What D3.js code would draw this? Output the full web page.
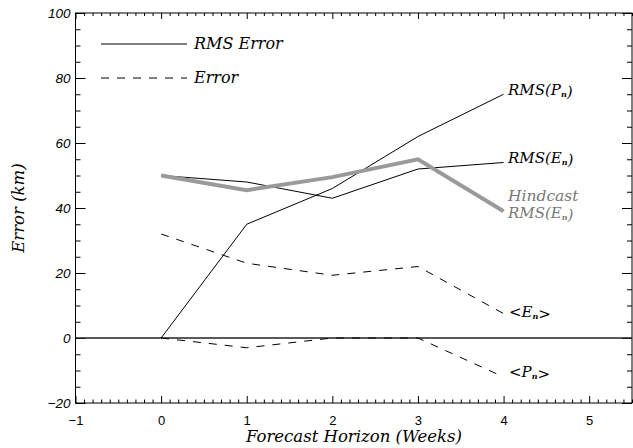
<!DOCTYPE html>
<html><head><meta charset="utf-8">
<script src="https://cdn.jsdelivr.net/npm/d3@7"></script>
<style>body{margin:0;background:#fff}svg{display:block}</style>
</head><body>
<script>
const weeks = [0, 1, 2, 3, 4];
const rmsP = [0, 35, 46, 62, 75];
const rmsE = [50, 48, 43, 52, 54];
const hindcastRmsE = [50, 45.5, 49.5, 55, 39];
const meanE = [32, 23, 19.3, 22, 7.5];
const meanP = [0, -3, 0, 0, -12];
const xTicks = [-1, 0, 1, 2, 3, 4, 5];
const yTicks = [-20, 0, 20, 40, 60, 80, 100];

const W = 633, H = 448;
const L = 75.5, R = 632, T = 13, B = 403;
const svg = d3.select("body").append("svg").attr("width", W).attr("height", H);
const x = d3.scaleLinear().domain([-1, 5.5]).range([L, R]);
const y = d3.scaleLinear().domain([-20, 100]).range([B, T]);

const serif = "'DejaVu Serif', 'Liberation Serif', serif";
const sans = "'Liberation Sans', 'DejaVu Sans', sans-serif";
const fmt = d => d < 0 ? "\u2212" + Math.abs(d) : String(d);

const xMinor = d3.range(-10, 56).map(d => d / 10).filter(v => Math.abs(v - Math.round(v)) > 1e-6);
const yMinor = d3.range(-20, 101, 5).filter(v => v % 20 !== 0);

function axis(gen, transform, values, size, labels) {
  const g = svg.append("g").attr("transform", transform)
    .call(gen.tickValues(values).tickSize(size));
  if (!labels) g.selectAll("text").remove();
  else g.selectAll("text").text(fmt);
  g.select(".domain").remove();
  g.selectAll("line").attr("stroke", "#000").attr("stroke-width", 1);
  return g;
}
// bottom
const xb = axis(d3.axisBottom(x).tickPadding(13), `translate(0,${B})`, xTicks, -7, true);
xb.selectAll("text").attr("font-family", sans).attr("font-size", 13).attr("fill", "#000");
axis(d3.axisBottom(x), `translate(0,${B})`, xMinor, -3.5, false);
// top
axis(d3.axisTop(x), `translate(0,${T})`, xTicks, -6, false);
axis(d3.axisTop(x), `translate(0,${T})`, xMinor, -3, false);
// left
const yl = axis(d3.axisLeft(y).tickPadding(5), `translate(${L},0)`, yTicks, -10, true);
yl.selectAll("text").attr("font-family", sans).attr("font-style", "italic").attr("font-size", 13.5).attr("fill", "#000");
axis(d3.axisLeft(y), `translate(${L},0)`, yMinor, -5, false);
// right
axis(d3.axisRight(y), `translate(${R},0)`, yTicks, -10, false);
axis(d3.axisRight(y), `translate(${R},0)`, yMinor, -5, false);

// frame
svg.append("rect").attr("x", L).attr("y", T).attr("width", R - L).attr("height", B - T)
  .attr("fill", "none").attr("stroke", "#000").attr("stroke-width", 1);

// axis titles
svg.append("text").attr("x", 354).attr("y", 442).attr("text-anchor", "middle")
  .attr("font-family", serif).attr("font-style", "italic").attr("font-size", 16.5)
  .text("Forecast Horizon (Weeks)");
svg.append("text").attr("transform", "translate(24,208) rotate(-90)").attr("text-anchor", "middle")
  .attr("font-family", serif).attr("font-style", "italic").attr("font-size", 16.5)
  .text("Error (km)");

// zero line
svg.append("line").attr("x1", L).attr("x2", R).attr("y1", y(0)).attr("y2", y(0))
  .attr("stroke", "#222").attr("stroke-width", 1.3);

const line = d3.line().x((d, i) => x(weeks[i])).y(d => y(d));
function path(data, opts) {
  svg.append("path").datum(data).attr("d", line).attr("fill", "none")
    .attr("stroke", opts.color || "#000").attr("stroke-width", opts.w || 1)
    .attr("stroke-dasharray", opts.dash || null).attr("stroke-linejoin", "miter");
}
path(rmsP, {});
path(rmsE, {});
path(meanE, {dash: "8,8"});
path(meanP, {dash: "8,8"});
path(hindcastRmsE, {color: "#9a9a9a", w: 4});

// legend
svg.append("line").attr("x1", 101).attr("x2", 187).attr("y1", 44).attr("y2", 44).attr("stroke", "#000");
svg.append("line").attr("x1", 101).attr("x2", 187).attr("y1", y(80)).attr("y2", y(80))
  .attr("stroke", "#000").attr("stroke-dasharray", "8,8");
function label(xp, yp, parts, color, size) {
  const t = svg.append("text").attr("x", xp).attr("y", yp)
    .attr("font-family", serif).attr("font-style", "italic").attr("font-size", size || 15)
    .attr("fill", color || "#000");
  parts.forEach(p => {
    if (typeof p === "string") t.append("tspan").text(p);
    else {
      t.append("tspan").attr("font-size", 8).attr("font-weight", "bold").attr("dy", 2).text(p.sub);
      t.append("tspan").attr("dy", -2).text("");
    }
  });
}
label(194, 49, ["RMS Error"], null, 16);
label(194, y(80) + 5, ["Error"], null, 16);
label(508, 95, ["RMS(P", {sub: "n"}, ")"]);
label(508, 163, ["RMS(E", {sub: "n"}, ")"]);
label(508, 201, ["Hindcast"], "#777", 15.5);
label(508, 218, ["RMS(E", {sub: "n"}, ")"], "#777");
label(509, 317, ["<E", {sub: "n"}, ">"]);
label(509, 377, ["<P", {sub: "n"}, ">"]);
</script>
</body></html>
